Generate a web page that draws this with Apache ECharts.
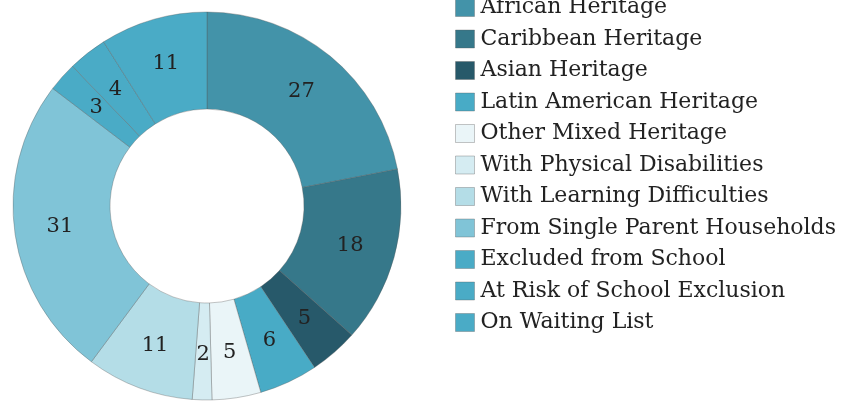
<!DOCTYPE html>
<html>
<head>
<meta charset="utf-8">
<script src="https://cdn.jsdelivr.net/npm/echarts@6/dist/echarts.min.js"></script>
<style>
  html, body { margin: 0; padding: 0; background: #fff; }
  #chart { width: 844px; height: 403px; }
</style>
</head>
<body>
<div id="chart"></div>
<script>
const categories = [
  "African Heritage",
  "Caribbean Heritage",
  "Asian Heritage",
  "Latin American Heritage",
  "Other Mixed Heritage",
  "With Physical Disabilities",
  "With Learning Difficulties",
  "From Single Parent Households",
  "Excluded from School",
  "At Risk of School Exclusion",
  "On Waiting List"
]
const values = [27, 18, 5, 6, 5, 2, 11, 31, 3, 4, 11]
const colors = [
  "#4393a9", "#36788a", "#27596a", "#48abc6", "#eaf5f8", "#d5ecf2",
  "#b4dde7", "#80c4d7", "#4aabc6", "#4aabc6", "#4aabc6"
]

const chart = echarts.init(document.getElementById("chart"))
const fontFamily = "'DejaVu Serif', serif"

const option = {
  animation: false,
  legend: {
    orient: "vertical",
    left: 455,
    top: -3.5,
    padding: 0,
    itemWidth: 19,
    itemHeight: 18,
    itemGap: 9.5,
    icon: "rect",
    itemStyle: {
      borderColor: "rgba(90,90,90,0.35)",
      borderWidth: 1
    },
    textStyle: {
      fontFamily: fontFamily,
      fontSize: 22,
      lineHeight: 20,
      color: "#222",
      padding: [0, 0, 0, 1]
    },
    data: categories
  },
  series: [
    {
      type: "pie",
      center: [207, 206],
      radius: [97, 194],
      startAngle: 90,
      clockwise: true,
      avoidLabelOverlap: false,
      itemStyle: {
        borderColor: "rgba(90,90,90,0.35)",
        borderWidth: 1
      },
      label: {
        position: "inside",
        formatter: "{c}",
        fontFamily: fontFamily,
        fontSize: 21,
        color: "#222"
      },
      labelLine: { show: false },
      data: categories.map((name, i) => ({
        name: name,
        value: values[i],
        itemStyle: { color: colors[i] }
      }))
    }
  ]
}

chart.setOption(option)
</script>
</body>
</html>
